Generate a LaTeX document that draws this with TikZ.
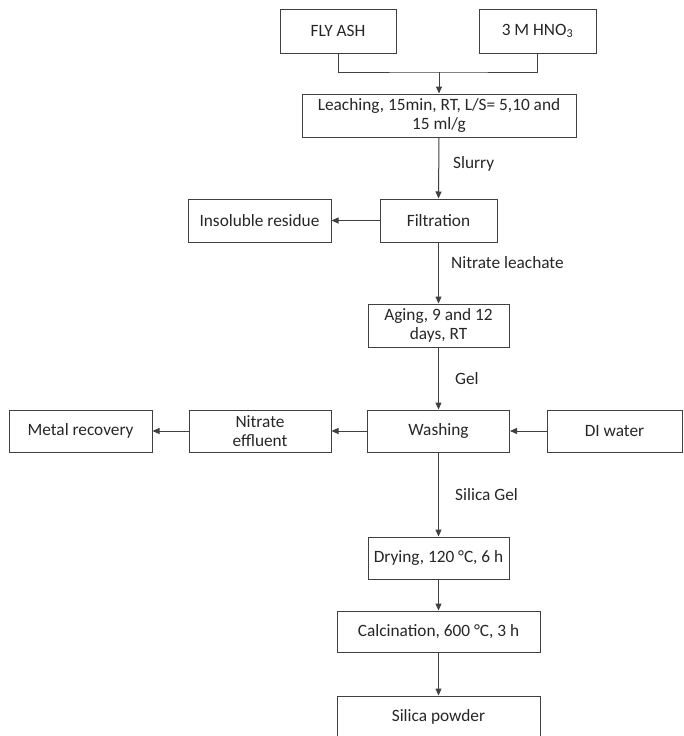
\documentclass[tikz,border=0pt]{standalone}
\usepackage{fontspec}
\setmainfont{Carlito}
\usetikzlibrary{arrows.meta}
\begin{document}
\begin{tikzpicture}[x=1pt,y=-1pt,
  box/.style={draw=black!75, line width=1pt, inner sep=0pt, align=center,
    font=\fontsize{17.3}{19.5}\selectfont, text=black!85},
  arr/.style={draw=black!75, line width=1pt, -{Triangle[length=7pt,width=6pt]}},
  lin/.style={draw=black!75, line width=1pt},
  lbl/.style={anchor=west, inner sep=0pt, font=\fontsize{17.3}{19.5}\selectfont, text=black!85}]
\useasboundingbox (0,0) rectangle (683,736);
\node[box, minimum width=116pt, minimum height=44pt] (flyash) at (338,31) {FLY ASH};
\node[box, minimum width=117pt, minimum height=44pt] (hno3) at (537.5,31) {3 M HNO\textsubscript{3}};
\node[box, minimum width=274pt, minimum height=43pt] (leach) at (439,115.5) {Leaching, 15min, RT, L/S= 5,10 and\\15 ml/g};
\node[box, minimum width=117pt, minimum height=43pt] (filt) at (438.5,220.5) {Filtration};
\node[box, minimum width=143pt, minimum height=43pt] (insol) at (259.5,220.5) {Insoluble residue};
\node[box, minimum width=141pt, minimum height=43pt] (aging) at (438.5,325.5) {Aging, 9 and 12\\days, RT};
\node[box, minimum width=143pt, minimum height=42pt] (metal) at (80.5,431) {Metal recovery};
\node[box, minimum width=142pt, minimum height=42pt] (neff) at (260,431) {Nitrate\\effluent};
\node[box, minimum width=142pt, minimum height=42pt] (wash) at (438.5,431) {Washing};
\node[box, minimum width=135pt, minimum height=42pt] (diw) at (614.5,431) {DI water};
\node[box, minimum width=141pt, minimum height=42pt] (dry) at (438.5,558) {Drying, 120 °C, 6 h};
\node[box, minimum width=203pt, minimum height=41pt] (calc) at (438.5,631.5) {Calcination, 600 °C, 3 h};
\node[box, minimum width=203pt, minimum height=42pt] (silica) at (438.5,717) {Silica powder};
\coordinate (j) at (439,72);
\draw[lin] (flyash.south) |- (j) -| (hno3.south);
\draw[arr] (j) -- (leach.north);
\draw[arr] (leach.south) -- (filt.north);
\draw[arr] (filt.south) -- (aging.north);
\draw[arr] (aging.south) -- (wash.north);
\draw[arr] (wash.south) -- (dry.north);
\draw[arr] (dry.south) -- (calc.north);
\draw[arr] (calc.south) -- (silica.north);
\draw[arr] (filt.west) -- (insol.east);
\draw[arr] (wash.west) -- (neff.east);
\draw[arr] (neff.west) -- (metal.east);
\draw[arr] (diw.west) -- (wash.east);
\node[lbl] (l1) at (453,164) {Slurry};
\node[lbl] (l2) at (451,263) {Nitrate leachate};
\node[lbl] (l3) at (455,379) {Gel};
\node[lbl] (l4) at (455,495) {Silica Gel};
\end{tikzpicture}
\end{document}
